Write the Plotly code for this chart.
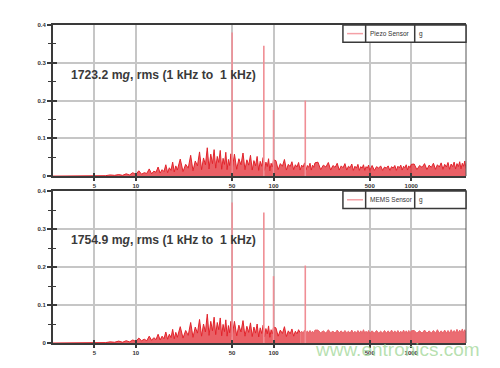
import math
import plotly.graph_objects as go

# ---------------- data ----------------
freq_hz = [
    2.5, 3, 3.5, 4, 4.5, 5, 5.5, 6,
    6.5, 7, 7.5, 8, 8.5, 9, 9.5, 10,
    10.5, 11, 11.5, 12, 12.5, 13, 13.5, 14, 14.5, 15, 15.5, 16, 16.5, 17, 17.5, 18, 18.5, 19, 19.5, 20,
    21, 22, 23, 24, 25, 26, 27, 28, 29, 30, 31, 32, 33, 34, 35, 36, 37, 38, 39, 40,
    41, 42, 43, 44, 45, 46, 47, 48, 49, 50,
    52, 54, 56, 58, 60, 62, 64, 66, 68, 70, 72, 74, 76, 78, 80, 82, 84, 86, 88, 90, 92, 94, 96, 98, 100,
    104, 108, 112, 116, 120, 124, 128, 132, 136, 140, 144, 148, 152, 156, 160, 164, 168, 172, 176, 180,
    184, 188, 192, 196, 200,
    210, 220, 230, 240, 250, 260, 270, 280, 290, 300, 310, 320, 330, 340, 350, 360, 370, 380, 390, 400,
    410, 420, 430, 440, 450, 460, 470, 480, 490, 500,
    520, 540, 560, 580, 600, 620, 640, 660, 680, 700, 720, 740, 760, 780, 800, 820, 840, 860, 880, 900,
    920, 940, 960, 980, 1000,
    1050, 1100, 1150, 1200, 1250, 1300, 1350, 1400, 1450, 1500, 1550, 1600, 1650, 1700, 1750, 1800,
    1850, 1900, 1950, 2000, 2050, 2100, 2150, 2200, 2250, 2300, 2350, 2400, 2450, 2500,
]

piezo_noise_g = [
    0.000, 0.000, 0.001, 0.000, 0.001, 0.001, 0.002, 0.001,
    0.003, 0.002, 0.004, 0.002, 0.006, 0.003, 0.009, 0.004,
    0.014, 0.005, 0.009, 0.007, 0.019, 0.006, 0.013, 0.010, 0.024, 0.008, 0.017, 0.012, 0.030, 0.009, 0.022, 0.015, 0.037, 0.011, 0.027, 0.016,
    0.045, 0.012, 0.031, 0.021, 0.055, 0.014, 0.040, 0.027, 0.064, 0.017, 0.048, 0.030, 0.075, 0.019, 0.058, 0.033, 0.070, 0.021, 0.052, 0.036,
    0.068, 0.018, 0.047, 0.031, 0.063, 0.017, 0.044, 0.028, 0.059, 0.016,
    0.058, 0.018, 0.046, 0.030, 0.061, 0.017, 0.043, 0.029, 0.055, 0.016, 0.041, 0.027, 0.052, 0.015, 0.039, 0.026, 0.049, 0.015, 0.037, 0.025, 0.046, 0.014, 0.034, 0.024, 0.043,
    0.041, 0.017, 0.033, 0.026, 0.044, 0.016, 0.031, 0.025, 0.038, 0.017, 0.030, 0.024, 0.036, 0.016, 0.029, 0.024, 0.035, 0.016, 0.028, 0.023,
    0.034, 0.016, 0.029, 0.023, 0.035,
    0.037, 0.017, 0.029, 0.024, 0.036, 0.016, 0.028, 0.023, 0.034, 0.016, 0.027, 0.022, 0.033, 0.016, 0.026, 0.022, 0.032, 0.015, 0.026, 0.021,
    0.031, 0.015, 0.025, 0.021, 0.030, 0.015, 0.025, 0.021, 0.029, 0.015,
    0.028, 0.015, 0.025, 0.021, 0.027, 0.015, 0.024, 0.021, 0.027, 0.015, 0.025, 0.021, 0.028, 0.015, 0.026, 0.022, 0.029, 0.016, 0.026, 0.022,
    0.030, 0.016, 0.027, 0.022, 0.031,
    0.032, 0.017, 0.028, 0.023, 0.033, 0.017, 0.029, 0.023, 0.034, 0.018, 0.030, 0.024, 0.035, 0.018, 0.031, 0.024,
    0.036, 0.018, 0.032, 0.025, 0.037, 0.019, 0.033, 0.025, 0.038, 0.019, 0.034, 0.026, 0.040, 0.020,
]

mems_noise_g = [
    0.000, 0.000, 0.001, 0.000, 0.001, 0.001, 0.001, 0.001,
    0.003, 0.002, 0.005, 0.002, 0.006, 0.003, 0.008, 0.004,
    0.013, 0.006, 0.010, 0.006, 0.018, 0.007, 0.014, 0.009, 0.023, 0.008, 0.018, 0.011, 0.029, 0.010, 0.023, 0.014, 0.036, 0.011, 0.028, 0.015,
    0.043, 0.013, 0.033, 0.020, 0.054, 0.015, 0.042, 0.026, 0.062, 0.018, 0.050, 0.029, 0.076, 0.020, 0.057, 0.032, 0.068, 0.022, 0.054, 0.035,
    0.066, 0.019, 0.049, 0.030, 0.061, 0.018, 0.046, 0.027, 0.057, 0.017,
    0.057, 0.019, 0.047, 0.029, 0.059, 0.018, 0.044, 0.028, 0.053, 0.017, 0.042, 0.026, 0.050, 0.016, 0.040, 0.025, 0.047, 0.016, 0.038, 0.024, 0.045, 0.015, 0.035, 0.024, 0.042,
    0.040, 0.018, 0.034, 0.025, 0.043, 0.017, 0.032, 0.024, 0.037, 0.018, 0.031, 0.024, 0.035, 0.027, 0.031, 0.026, 0.034, 0.027, 0.032, 0.026,
    0.033, 0.027, 0.031, 0.026, 0.034,
    0.034, 0.027, 0.032, 0.026, 0.035, 0.027, 0.031, 0.026, 0.034, 0.027, 0.032, 0.026, 0.033, 0.027, 0.031, 0.026, 0.034, 0.026, 0.031, 0.026,
    0.033, 0.026, 0.032, 0.026, 0.035, 0.026, 0.031, 0.026, 0.033, 0.026,
    0.032, 0.026, 0.033, 0.026, 0.031, 0.026, 0.033, 0.026, 0.032, 0.026, 0.034, 0.026, 0.032, 0.026, 0.033, 0.026, 0.031, 0.026, 0.034, 0.026,
    0.032, 0.026, 0.033, 0.026, 0.032,
    0.033, 0.026, 0.032, 0.026, 0.034, 0.026, 0.032, 0.026, 0.033, 0.026, 0.035, 0.026, 0.032, 0.026, 0.034, 0.026,
    0.033, 0.026, 0.035, 0.027, 0.033, 0.027, 0.036, 0.027, 0.034, 0.027, 0.037, 0.027, 0.035, 0.027,
]

# discrete tones (Hz, g)
peak_freq_hz = [50, 85, 100, 170]
piezo_peak_g = [0.380, 0.345, 0.175, 0.200]
mems_peak_g = [0.370, 0.344, 0.176, 0.204]

mems_split_hz = 156  # colour of the MEMS trace changes here

x_tick_vals = [5, 10, 50, 100, 500, 1000]
x_tick_text = ["5", "10", "50", "100", "500", "1000"]
y_tick_vals = [0, 0.1, 0.2, 0.3, 0.4]
y_tick_text = ["0", "0.1", "0.2", "0.3", "0.4"]
y_minor_vals = [0.05, 0.15, 0.25, 0.35]

piezo_label = "Piezo Sensor"
mems_label = "MEMS Sensor"
unit_label = "g"
piezo_text = "1723.2 m<i>g</i>, rms (1 kHz to\u00a0 1 kHz)"
mems_text = "1754.9 m<i>g</i>, rms (1 kHz to\u00a0 1 kHz)"
watermark = "www.entronics.com"

# ---------------- styling ----------------
FONT = "Liberation Sans, Arial, sans-serif"
RED = "#e2232b"
RED_FILL = "rgba(226,35,43,0.72)"
LIGHT = "#e9646b"
LIGHT_FILL = "rgba(233,95,102,0.92)"
PEAK = "#f08e95"
AX = "#3a3a3a"
GRID = "#c6c6c6"

fig = go.Figure()


def peak_xy(freqs, amps):
    xs, ys = [], []
    for f, a in zip(freqs, amps):
        xs += [f, f, None]
        ys += [0, a, None]
    return xs, ys


# top panel: piezo
fig.add_trace(go.Scatter(x=freq_hz, y=piezo_noise_g, mode="lines",
                         line=dict(color=RED, width=1), fill="tozeroy",
                         fillcolor=RED_FILL, xaxis="x", yaxis="y",
                         hoverinfo="skip", showlegend=False))
px, py = peak_xy(peak_freq_hz, piezo_peak_g)
fig.add_trace(go.Scatter(x=px, y=py, mode="lines", line=dict(color=PEAK, width=1.6),
                         xaxis="x", yaxis="y", hoverinfo="skip", showlegend=False))

# bottom panel: MEMS
lo = [i for i, f in enumerate(freq_hz) if f <= mems_split_hz]
hi = [i for i, f in enumerate(freq_hz) if f >= mems_split_hz]
fig.add_trace(go.Scatter(x=[freq_hz[i] for i in lo], y=[mems_noise_g[i] for i in lo],
                         mode="lines", line=dict(color=RED, width=1), fill="tozeroy",
                         fillcolor=RED_FILL, xaxis="x2", yaxis="y2",
                         hoverinfo="skip", showlegend=False))
fig.add_trace(go.Scatter(x=[freq_hz[i] for i in hi], y=[mems_noise_g[i] for i in hi],
                         mode="lines", line=dict(color=LIGHT, width=1), fill="tozeroy",
                         fillcolor=LIGHT_FILL, xaxis="x2", yaxis="y2",
                         hoverinfo="skip", showlegend=False))
mx, my = peak_xy(peak_freq_hz, mems_peak_g)
fig.add_trace(go.Scatter(x=mx, y=my, mode="lines", line=dict(color=PEAK, width=1.6),
                         xaxis="x2", yaxis="y2", hoverinfo="skip", showlegend=False))

# invisible traces so the overlay (inside-tick) axes are drawn
for xa, ya in [("x3", "y3"), ("x4", "y4")]:
    fig.add_trace(go.Scatter(x=[None], y=[None], xaxis=xa, yaxis=ya, mode="lines",
                             hoverinfo="skip", showlegend=False))

xrange = [math.log10(2.5), math.log10(2500)]
tickfont = dict(family=FONT, size=6, color="#333333", weight="bold")


def xaxis_main(anchor):
    return dict(type="log", range=xrange, tickvals=x_tick_vals, ticktext=x_tick_text,
                showgrid=True, gridcolor=GRID, gridwidth=1.5, showline=True,
                linecolor=AX, linewidth=2, mirror=True, ticks="outside", ticklen=3,
                tickwidth=1.5, tickcolor=AX, tickfont=tickfont, anchor=anchor,
                zeroline=False, domain=[0, 1])


def yaxis_main(anchor, dom):
    return dict(range=[0, 0.4], tickvals=y_tick_vals, ticktext=y_tick_text,
                showgrid=True, gridcolor=GRID, gridwidth=1.5, showline=True,
                linecolor=AX, linewidth=2, ticks="outside", ticklen=4, tickwidth=1.5,
                tickcolor=AX, tickfont=tickfont, zeroline=False, anchor=anchor, domain=dom,
                minor=dict(tickvals=y_minor_vals, ticks="outside", ticklen=3,
                           tickwidth=1.2, tickcolor=AX, showgrid=False))


def xaxis_over(over, anchor):
    return dict(type="log", range=xrange, tickvals=x_tick_vals, overlaying=over,
                showticklabels=False, showgrid=False, showline=False, ticks="inside",
                ticklen=3, tickwidth=1.5, tickcolor=AX, anchor=anchor, zeroline=False)


def yaxis_over(over, anchor):
    return dict(range=[0, 0.4], tickvals=y_tick_vals, overlaying=over, side="left",
                showticklabels=False, showgrid=False, showline=False, ticks="inside",
                ticklen=4, tickwidth=1.5, tickcolor=AX, anchor=anchor, zeroline=False,
                minor=dict(tickvals=y_minor_vals, ticks="inside", ticklen=3,
                           tickwidth=1.2, tickcolor=AX, showgrid=False))


top_dom = [0.5249, 1.0]
bot_dom = [0.0, 0.4776]

# the page body adds an 8px offset, so the figure is 8px smaller on each axis
fig.update_layout(
    width=492, height=360,
    margin=dict(l=45, r=34, t=17, b=22),
    paper_bgcolor="white", plot_bgcolor="white",
    showlegend=False,
    xaxis=xaxis_main("y"),
    yaxis=yaxis_main("x", top_dom),
    xaxis2=xaxis_main("y2"),
    yaxis2=yaxis_main("x2", bot_dom),
    xaxis3=xaxis_over("x", "y3"),
    yaxis3=yaxis_over("y", "x3"),
    xaxis4=xaxis_over("x2", "y4"),
    yaxis4=yaxis_over("y2", "x4"),
)

shapes = []
annotations = []
for xref, yref, label, text, ty in [("x", "y", piezo_label, piezo_text, 0.666),
                                    ("x2", "y2", mems_label, mems_text, 0.676)]:
    xd, yd = xref + " domain", yref + " domain"
    # right frame line
    shapes.append(dict(type="line", xref=xd, yref=yd, x0=1, x1=1, y0=0, y1=1,
                       line=dict(color="#555555", width=1)))
    # legend table
    shapes.append(dict(type="rect", xref=xd, yref=yd, x0=0.702, x1=1.0, y0=0.885, y1=1.0,
                       line=dict(color=AX, width=1.5), fillcolor="white", layer="above"))
    for xv in (0.757, 0.8758):
        shapes.append(dict(type="line", xref=xd, yref=yd, x0=xv, x1=xv, y0=0.885, y1=1.0,
                           line=dict(color=AX, width=1.5)))
    shapes.append(dict(type="line", xref=xd, yref=yd, x0=0.712, x1=0.7506, y0=0.943, y1=0.943,
                       line=dict(color="#f4a0a6", width=1.5)))
    annotations.append(dict(xref=xd, yref=yd, x=0.7627, y=0.943, text=label, showarrow=False,
                            xanchor="left", yanchor="middle",
                            font=dict(family=FONT, size=6.5, color="#333333")))
    annotations.append(dict(xref=xd, yref=yd, x=0.881, y=0.943, text=unit_label, showarrow=False,
                            xanchor="left", yanchor="middle",
                            font=dict(family=FONT, size=6.5, color="#333333")))
    annotations.append(dict(xref=xd, yref=yd, x=0.0387, y=ty, text=text, showarrow=False,
                            xanchor="left", yanchor="middle",
                            font=dict(family=FONT, size=12.2, color="#3a3a3a", weight="bold")))

annotations.append(dict(xref="paper", yref="paper", x=0.835, y=-0.022, text=watermark,
                        showarrow=False, xanchor="center", yanchor="middle",
                        font=dict(family=FONT, size=19, color="rgba(160,214,150,0.75)")))

fig.update_layout(shapes=shapes, annotations=annotations)
fig.write_html("out.html")
